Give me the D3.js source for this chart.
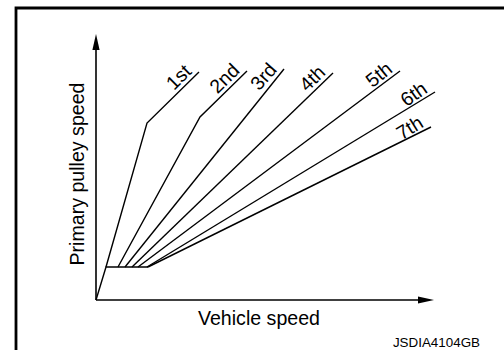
<!DOCTYPE html>
<html>
<head>
<meta charset="utf-8">
<script src="https://cdn.jsdelivr.net/npm/d3@7"></script>
<style>
html,body{margin:0;padding:0;background:#fff;}
svg{display:block;font-family:"Liberation Sans",Arial,sans-serif;}
</style>
</head>
<body>
<svg id="chart" width="504" height="350"></svg>
<script>
// Data (vehicle speed units, primary pulley speed units)
const gears = ["1st","2nd","3rd","4th","5th","6th","7th"];
const gearVehicle = [
  [10, 51, 103],
  [22, 104, 151],
  [29, 188],
  [36, 237],
  [42, 304],
  [51, 339],
  [52, 335]
];
const gearPulley = [
  [33, 177, 228],
  [33, 183, 229],
  [33, 231],
  [33, 227],
  [33, 229],
  [33, 208],
  [33, 173]
];
const baseVehicle = [0, 10, 52];
const basePulley = [0, 33, 33];
const xTitle = "Vehicle speed";
const yTitle = "Primary pulley speed";
const code = "JSDIA4104GB";

const svg = d3.select("#chart");
const x = d3.scaleLinear().domain([0, 338]).range([96, 434]);
const y = d3.scaleLinear().domain([0, 266]).range([300, 34]);

// frame
svg.append("path").attr("d", "M16,350 L16,8 L504,8")
  .attr("fill", "none").attr("stroke", "#000").attr("stroke-width", 2.8);

// axes
const xAxis = svg.append("g").attr("transform", `translate(0,${y(0)})`)
  .call(d3.axisBottom(x).tickValues([]).tickSizeOuter(0));
const yAxis = svg.append("g").attr("transform", `translate(${x(0)},0)`)
  .call(d3.axisLeft(y).tickValues([]).tickSizeOuter(0));
[xAxis, yAxis].forEach(g => g.select(".domain").attr("stroke", "#000").attr("stroke-width", 1.6));
xAxis.select(".domain").attr("d", `M${x(0)},0H${x(338) - 14}`);
yAxis.select(".domain").attr("d", `M0,${y(0)}V${y(266) + 15}`);
// arrow heads
svg.append("path")
  .attr("d", `M${x(338)},${y(0)} L${x(338) - 16},${y(0) - 3.6} L${x(338) - 16},${y(0) + 3.6} Z`)
  .attr("fill", "#000");
svg.append("path")
  .attr("d", `M${x(0)},${y(266)} L${x(0) - 3.6},${y(266) + 16} L${x(0) + 3.6},${y(266) + 16} Z`)
  .attr("fill", "#000");

const line = d3.line().x(d => x(d[0])).y(d => y(d[1]));

// base segment
svg.append("path").datum(d3.zip(baseVehicle, basePulley))
  .attr("d", line).attr("fill", "none").attr("stroke", "#000").attr("stroke-width", 1.4);

gears.forEach((g, i) => {
  const pts = d3.zip(gearVehicle[i], gearPulley[i]);
  svg.append("path").datum(pts).attr("d", line)
    .attr("fill", "none").attr("stroke", "#000").attr("stroke-width", 1.4)
    .attr("stroke-linejoin", "miter");
  const a = pts[pts.length - 2], b = pts[pts.length - 1];
  const x1 = x(a[0]), y1 = y(a[1]), x2 = x(b[0]), y2 = y(b[1]);
  const lineAng = Math.atan2(y2 - y1, x2 - x1) * 180 / Math.PI;
  const ang = lineAng * 0.7 + (-45) * 0.3;
  svg.append("text")
    .attr("transform", `translate(${x2},${y2}) rotate(${ang})`)
    .attr("x", -5).attr("y", -4)
    .attr("text-anchor", "end")
    .attr("font-size", 19.5)
    .text(g);
});

// titles
svg.append("text").attr("x", 259).attr("y", 325)
  .attr("text-anchor", "middle").attr("font-size", 19.6).text(xTitle);
svg.append("text").attr("transform", `translate(84,174) rotate(-90)`)
  .attr("text-anchor", "middle").attr("font-size", 19.6).text(yTitle);
svg.append("text").attr("x", 480).attr("y", 347)
  .attr("text-anchor", "end").attr("font-size", 13.4).text(code);
</script>
</body>
</html>
